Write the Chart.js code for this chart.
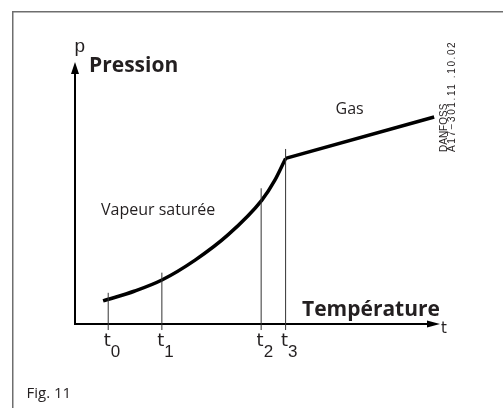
<!DOCTYPE html>
<html>
<head>
<meta charset="utf-8">
<script src="https://cdn.jsdelivr.net/npm/chart.js@4/dist/chart.umd.min.js"></script>
<style>
  html, body { margin: 0; padding: 0; background: #ffffff; }
  #chart { display: block; }
</style>
</head>
<body>
<canvas id="chart" width="503" height="408"></canvas>
<script>
// ─── Data (axis range 0..100) ───────────────────────────────────────────────
const curveX = [7.7, 16.4, 23.8, 32.9, 41.9, 51.2, 54.8, 57.7];
const curveY = [8.8, 12.6, 16.8, 24.4, 34.0, 47.3, 55.0, 63.2];

const gasX = [57.7, 98.4];
const gasY = [63.2, 79.0];

const tickX      = [9.1, 23.8, 51.0, 57.7];
const tickTop    = [11.9, 19.6, 51.8, 66.8];
const tickBottom = -2.3;
const tickSubs   = ["0", "1", "2", "3"];

// ─── Styling ───────────────────────────────────────────────────────────────
const TEXT_COLOR = "#231f20";
const SANS = "'Open Sans', 'Noto Sans', sans-serif";
const THIN = "'Liberation Sans', Arial, sans-serif";
const WIDE = "'DejaVu Sans', sans-serif";

// Vertical marker lines at t0..t3
const tickDatasets = tickX.map((x, i) => ({
    data: [{ x: x, y: tickBottom }, { x: x, y: tickTop[i] }],
    borderColor: "#333333",
    borderWidth: 1,
    pointRadius: 0,
    clip: false,
}));

// ─── Axes, arrows and labels ───────────────────────────────────────────────
const diagramPlugin = {
    id: "diagram",
    beforeDatasetsDraw(chart) {
        const ctx = chart.ctx;
        const xs = chart.scales.x;
        const ys = chart.scales.y;
        const x0 = xs.getPixelForValue(0);
        const y0 = ys.getPixelForValue(0);
        const xEnd = xs.getPixelForValue(100);
        const yEnd = ys.getPixelForValue(100);

        ctx.save();
        // frame
        ctx.strokeStyle = "#6e6e6e";
        ctx.lineWidth = 1.5;
        ctx.beginPath();
        ctx.moveTo(12.75, 408);
        ctx.lineTo(12.75, 11.75);
        ctx.lineTo(503, 11.75);
        ctx.stroke();

        // axes
        ctx.strokeStyle = "#000";
        ctx.fillStyle = "#000";
        ctx.lineWidth = 2;
        ctx.beginPath();
        ctx.moveTo(x0, y0);
        ctx.lineTo(x0, yEnd + 10);
        ctx.moveTo(x0 - 1, y0);
        ctx.lineTo(xEnd - 10, y0);
        ctx.stroke();

        // arrow heads
        ctx.beginPath();
        ctx.moveTo(x0, yEnd);
        ctx.lineTo(x0 - 4, yEnd + 12);
        ctx.lineTo(x0 + 4, yEnd + 12);
        ctx.closePath();
        ctx.fill();
        ctx.beginPath();
        ctx.moveTo(xEnd, y0);
        ctx.lineTo(xEnd - 13, y0 - 3.5);
        ctx.lineTo(xEnd - 13, y0 + 3.5);
        ctx.closePath();
        ctx.fill();
        ctx.restore();
    },
    afterDraw(chart) {
        const ctx = chart.ctx;
        const xs = chart.scales.x;
        ctx.save();
        ctx.fillStyle = TEXT_COLOR;
        ctx.textBaseline = "alphabetic";

        // axis symbols
        ctx.font = "19px " + THIN;
        ctx.textAlign = "left";
        ctx.fillText("p", 74.5, 52);
        ctx.font = "15px " + WIDE;
        ctx.fillText("t", 441, 333);

        // t0..t3 labels
        tickX.forEach((x, i) => {
            const px = xs.getPixelForValue(x);
            ctx.font = "18px " + WIDE;
            ctx.textAlign = "center";
            ctx.fillText("t", px - 1, 346);
            ctx.font = "17px " + THIN;
            ctx.textAlign = "left";
            ctx.fillText(tickSubs[i], px + 2.5, 357);
        });

        // titles
        ctx.textAlign = "left";
        ctx.font = "bold 21px " + SANS;
        ctx.fillText("Pression", 89, 72);
        ctx.fillText("Température", 302, 316);

        ctx.font = "16px " + SANS;
        ctx.fillText("Vapeur saturée", 101, 215);
        ctx.fillText("Gas", 335.5, 113.5);

        ctx.font = "15px " + SANS;
        ctx.fillText("Fig. 11", 26.5, 398);

        // drawing reference, rotated
        ctx.save();
        ctx.translate(447, 152);
        ctx.rotate(-Math.PI / 2);
        ctx.font = "10px " + THIN;
        ctx.fillText("DANFOSS", 0, 0);
        ctx.letterSpacing = "1.6px";
        ctx.fillText("A17\u2212301.11 .10.02", 0, 8);
        ctx.restore();

        ctx.restore();
    },
};

// ─── Chart ─────────────────────────────────────────────────────────────────
new Chart(document.getElementById("chart"), {
    type: "line",
    data: {
        datasets: [
            ...tickDatasets,
            {
                data: curveX.map((x, i) => ({ x: x, y: curveY[i] })),
                borderColor: "#000",
                borderWidth: 3.5,
                pointRadius: 0,
                cubicInterpolationMode: "monotone",
                borderCapStyle: "butt",
                borderJoinStyle: "round",
                clip: false,
            },
            {
                data: gasX.map((x, i) => ({ x: x, y: gasY[i] })),
                borderColor: "#000",
                borderWidth: 3.5,
                pointRadius: 0,
                tension: 0,
                borderCapStyle: "butt",
                clip: false,
            },
        ],
    },
    options: {
        responsive: false,
        animation: false,
        devicePixelRatio: 1,
        layout: { padding: { left: 75, right: 63, top: 62, bottom: 84 } },
        plugins: {
            legend: { display: false },
            tooltip: { enabled: false },
        },
        scales: {
            x: { type: "linear", min: 0, max: 100, display: false },
            y: { type: "linear", min: 0, max: 100, display: false },
        },
    },
    plugins: [diagramPlugin],
});
</script>
</body>
</html>
